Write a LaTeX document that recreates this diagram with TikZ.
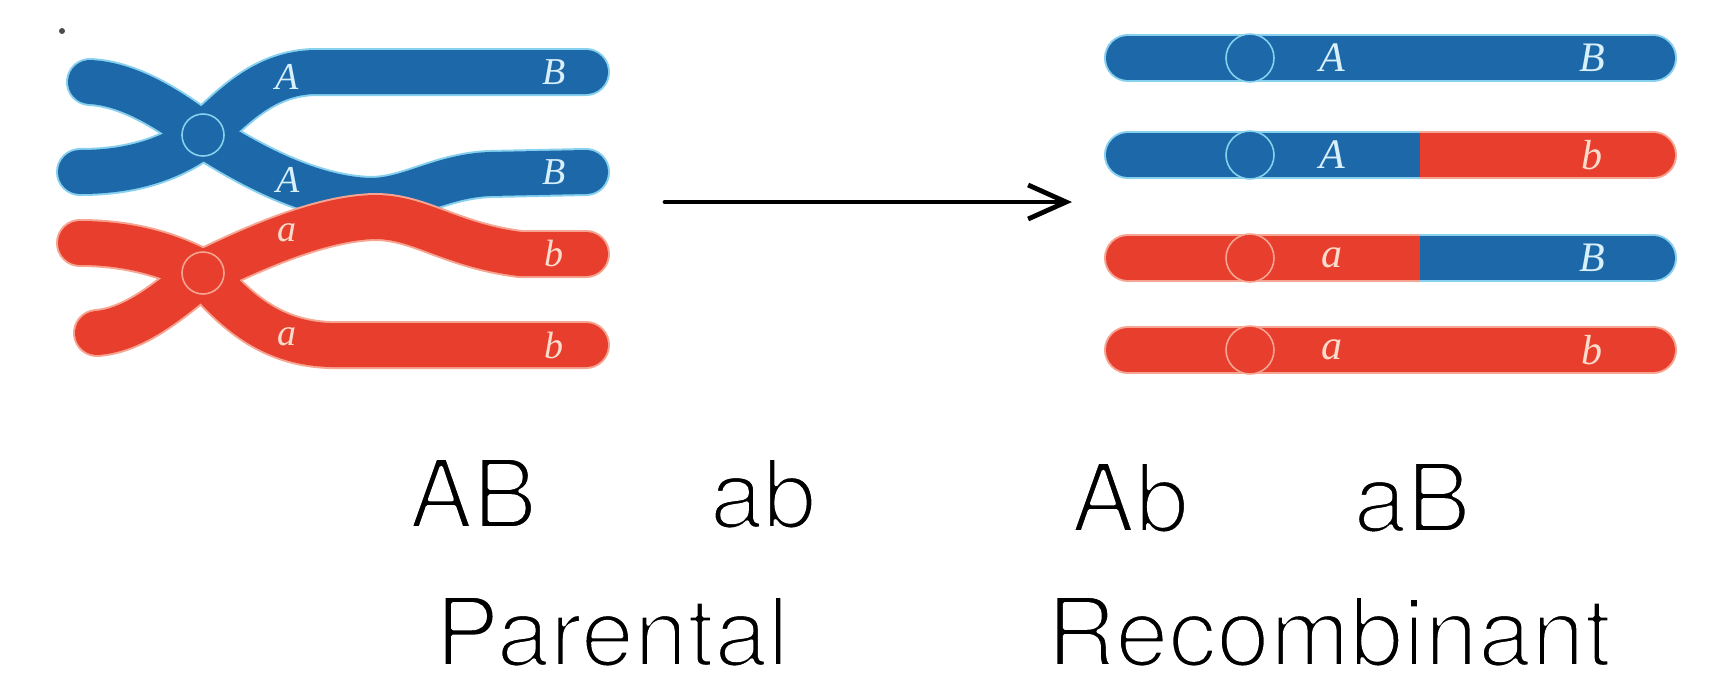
\documentclass[tikz,border=0pt]{standalone}
\usepackage{fontspec}
\setmainfont{TeX Gyre Heros}
\newfontfamily\genefont{Liberation Serif}
\usetikzlibrary{arrows.meta}

\definecolor{chromblue}{RGB}{28,104,168}
\definecolor{chromred}{RGB}{232,62,45}
\definecolor{edgeblue}{RGB}{135,208,238}
\definecolor{edgered}{RGB}{245,165,145}
\definecolor{geneblue}{RGB}{215,240,250}
\definecolor{genered}{RGB}{250,220,205}

% thin the strokes of the big labels with a white outline
\newcommand\thinlabel[1]{\special{pdf:literal direct 2 Tr 1.8 w 1 1 1 RG}#1\special{pdf:literal direct 0 Tr 0 0 0 RG}}

\begin{document}
\begin{tikzpicture}[x=0.5pt,y=-0.5pt,line cap=round,line join=round,
    gene/.style={font=\genefont\itshape\fontsize{19}{19}\selectfont,inner sep=0pt},
    gtype/.style={font=\fontsize{48}{48}\selectfont,anchor=base,inner sep=0pt},
    centro/.style={line width=0.8pt}]

    \useasboundingbox (0,0) rectangle (1717,675);

    \coordinate (cB) at (203,135);
    \coordinate (cR) at (203,273);

    % paired chromosomes before crossing over
    \foreach \c/\w in {edgeblue/24pt,chromblue/22pt}{
        \draw[draw=\c,line width=\w] (cB) .. controls (170,110) and (130,84) .. (90,82);
        \draw[draw=\c,line width=\w] (cB) .. controls (170,160) and (130,172) .. (80,172);
        \draw[draw=\c,line width=\w] (cB) .. controls (235,105) and (265,73) .. (315,72) -- (586,72);
        \draw[draw=\c,line width=\w] (cB) .. controls (250,165) and (310,198) .. (370,200)
            .. controls (410,200) and (440,176) .. (490,174) -- (586,172);
    }
    \foreach \c/\w in {edgered/24pt,chromred/22pt}{
        \draw[draw=\c,line width=\w] (cR) .. controls (170,255) and (130,243) .. (80,243);
        \draw[draw=\c,line width=\w] (cR) .. controls (170,300) and (135,330) .. (97,333);
        \draw[draw=\c,line width=\w] (cR) .. controls (235,310) and (270,343) .. (330,345) -- (586,345);
        \draw[draw=\c,line width=\w] (cR) .. controls (250,250) and (320,218) .. (375,217)
            .. controls (420,217) and (450,245) .. (520,254) -- (586,254);
    }
    \draw[centro,draw=edgeblue,fill=chromblue] (cB) circle[radius=10.5pt];
    \draw[centro,draw=edgered,fill=chromred] (cR) circle[radius=10.5pt];

    \node[gene,text=geneblue] (pA1) at (287,77) {A};
    \node[gene,text=geneblue] (pB1) at (554,72) {B};
    \node[gene,text=geneblue] (pA2) at (288,180) {A};
    \node[gene,text=geneblue] (pB2) at (554,172) {B};
    \node[gene,text=genered] (pa1) at (287,233) {a};
    \node[gene,text=genered] (pb1) at (554,253) {b};
    \node[gene,text=genered] (pa2) at (287,337) {a};
    \node[gene,text=genered] (pb2) at (554,345) {b};

    \fill[black!70] (62,31) circle[radius=1.5pt];

    % arrow
    \coordinate (arrS) at (665,202);
    \coordinate (arrE) at (1072,202);
    \draw[-{Straight Barb[length=19pt,width=17pt]},line width=2.4pt] (arrS) -- (arrE);

    % chromatids after crossing over
    \foreach \y/\lc/\rc/\lg/\rg in {58/blue/blue/A/B,155/blue/red/A/b,258/red/blue/a/B,350/red/red/a/b}{
        \begin{scope}
            \clip (1090,\y-40) rectangle (1420,\y+40);
            \draw[draw=edge\lc,line width=24pt] (1128,\y) -- (1653,\y);
            \draw[draw=chrom\lc,line width=22pt] (1128,\y) -- (1653,\y);
        \end{scope}
        \begin{scope}
            \clip (1420,\y-40) rectangle (1700,\y+40);
            \draw[draw=edge\rc,line width=24pt] (1128,\y) -- (1653,\y);
            \draw[draw=chrom\rc,line width=22pt] (1128,\y) -- (1653,\y);
        \end{scope}
        \draw[centro,draw=edge\lc,fill=chrom\lc] (1250,\y) circle[radius=12pt];
        \node[gene,font=\genefont\itshape\fontsize{21}{21}\selectfont,text=gene\lc] (rL\y) at (1332,\y) {\lg};
        \node[gene,font=\genefont\itshape\fontsize{21}{21}\selectfont,text=gene\rc] (rR\y) at (1592,\y) {\rg};
    }

    % genotypes
    \node[gtype] (AB) at (473,528) {\thinlabel{AB}};
    \node[gtype] (ab) at (763,528) {\thinlabel{ab}};
    \node[gtype] (Ab) at (1130,532) {\thinlabel{Ab}};
    \node[gtype] (aB) at (1412,532) {\thinlabel{aB}};
    \node[gtype] (par) at (612,666) {\thinlabel{Parental}};
    \node[gtype] (rec) at (1329,666) {\thinlabel{Recombinant}};

\end{tikzpicture}
\end{document}
